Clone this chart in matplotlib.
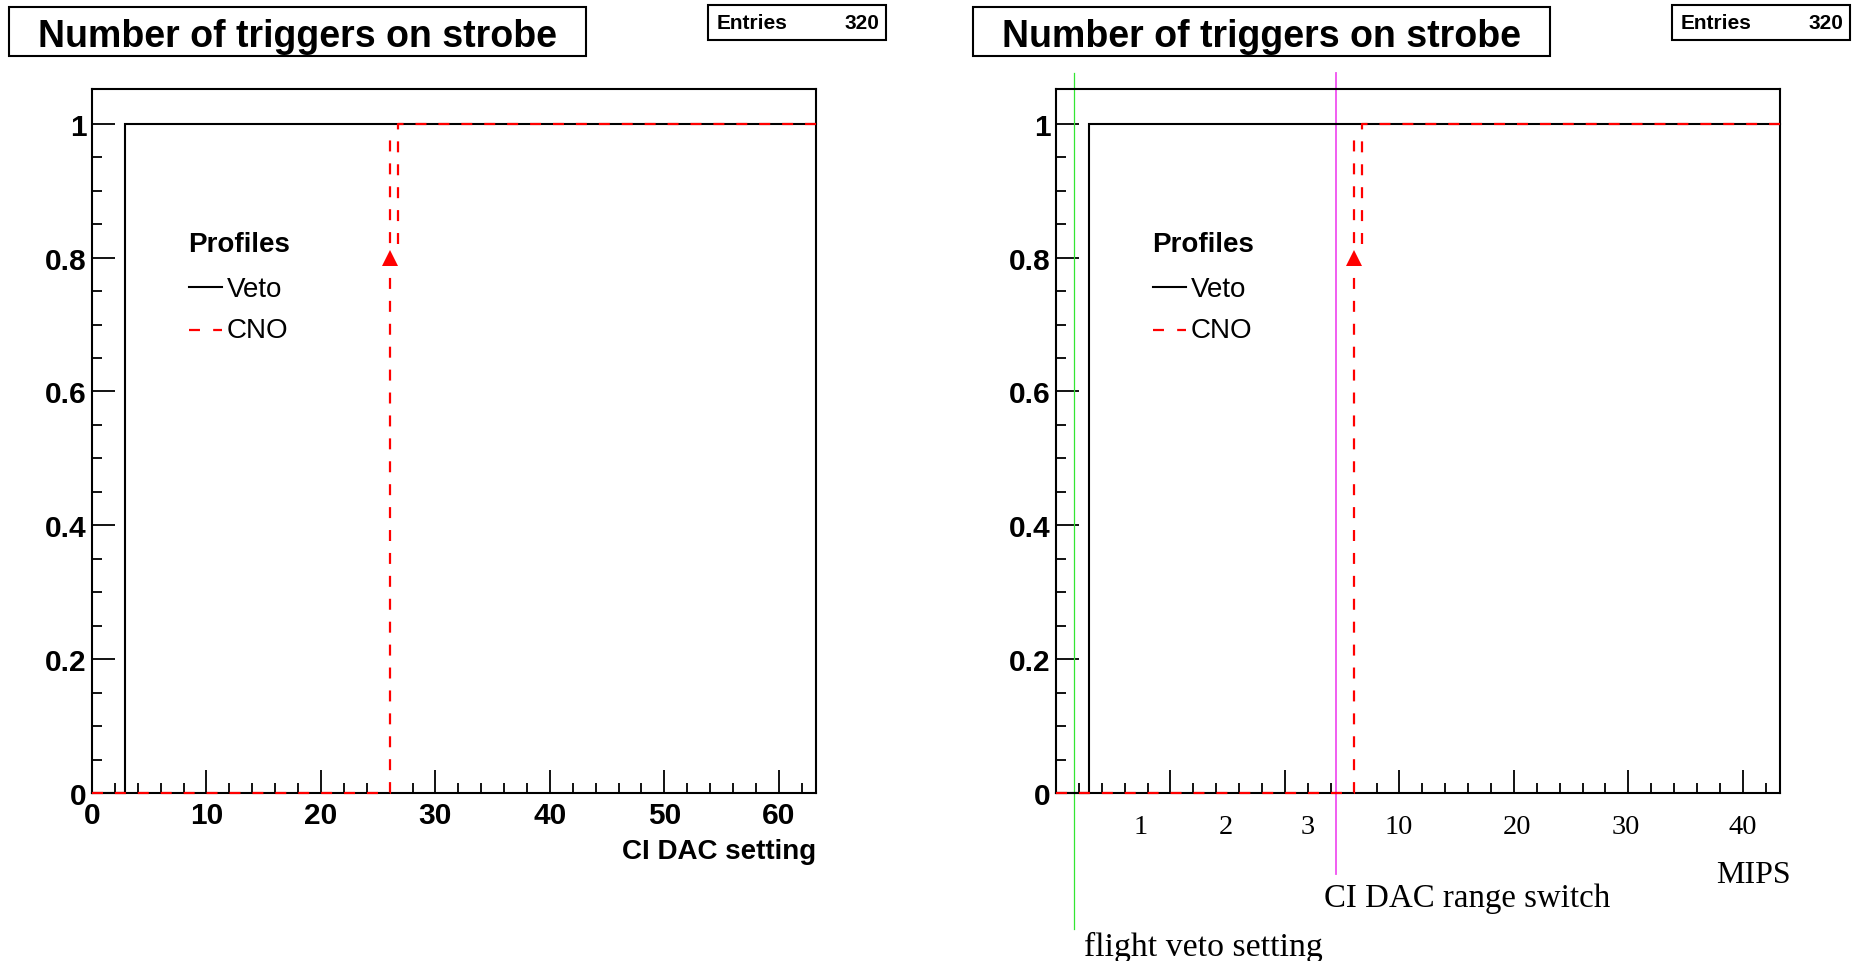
import matplotlib
matplotlib.use("Agg")
import matplotlib.pyplot as plt
from matplotlib.patches import Rectangle
from matplotlib.lines import Line2D
from matplotlib.ticker import MultipleLocator, FixedLocator, FuncFormatter
import matplotlib.transforms as mtransforms

# ---------------- data ----------------
title_text = "Number of triggers on strobe"
entries = 320
x_max = 63.25
veto_x = [0.0, 2.9, 2.9, 63.25]
veto_y = [0.0, 0.0, 1.0, 1.0]
cno_low_x = [0.0, 26.0, 26.0]
cno_low_y = [0.0, 0.0, 0.98]
cno_high_x = [26.7, 26.7, 63.25]
cno_high_y = [0.82, 1.0, 1.0]
cno_point_x = [26.0]
cno_point_y = [0.8]
y_minor_ticks = [i * 0.05 for i in range(21)]
x_label = "CI DAC setting"
legend_title = "Profiles"
legend_names = ["Veto", "CNO"]
mips_labels = ["1", "2", "3", "10", "20", "30", "40"]
mips_pos_dac = [7.4, 14.8, 22.0, 29.9, 40.3, 49.8, 60.0]
flight_veto_dac = 1.57
range_switch_dac = 24.5

# ---------------- layout ----------------
W, H = 1864, 962
plt.rcParams['lines.scale_dashes'] = False
SANS = 'Liberation Sans'
SERIF = 'Liberation Serif'
fig = plt.figure(figsize=(W / 100, H / 100), dpi=100)
fig.patch.set_facecolor('white')


def fx(x):
    return x / W


def fy(y):
    return 1 - y / H


RED_DASH = (0, (7.9, 8.6))


def draw_panel(x0, show_xlabels):
    ax = fig.add_axes([fx(x0), fy(794), 724 / W, 704 / H])
    ax.set_xlim(0, x_max)
    ax.set_ylim(0, 1.052)
    for s in ax.spines.values():
        s.set_linewidth(1.5)
        s.set_color('black')
    ax.xaxis.set_major_locator(MultipleLocator(10))
    ax.xaxis.set_minor_locator(MultipleLocator(2))
    ax.yaxis.set_major_locator(MultipleLocator(0.2))
    ax.yaxis.set_minor_locator(FixedLocator(y_minor_ticks))
    ax.tick_params(which='both', direction='in', top=False, right=False,
                   width=1.3, color='black')
    ax.tick_params(which='major', length=16.5)
    ax.tick_params(which='minor', length=7.5)
    ax.tick_params(axis='y', which='major', pad=4)
    ax.tick_params(axis='x', which='major', pad=6)
    ax.yaxis.set_major_formatter(FuncFormatter(lambda v, p: "%g" % round(v, 3)))
    for lab in ax.get_yticklabels():
        lab.set_fontfamily(SANS)
        lab.set_fontweight('bold')
        lab.set_fontsize(21.5)
    if show_xlabels:
        for lab in ax.get_xticklabels():
            lab.set_fontfamily(SANS)
            lab.set_fontweight('bold')
            lab.set_fontsize(21.5)
    else:
        ax.tick_params(axis='x', labelbottom=False)

    # profiles
    ax.plot(veto_x, veto_y, color='black', lw=1.5, solid_joinstyle='miter',
            clip_on=False, zorder=3)
    ax.plot(cno_low_x, cno_low_y, color='red', lw=1.6, linestyle=RED_DASH,
            clip_on=False, zorder=4)
    ax.plot(cno_high_x, cno_high_y, color='red', lw=1.6, linestyle=RED_DASH,
            clip_on=False, zorder=4)
    ax.plot(cno_point_x, cno_point_y, linestyle='none', marker='^', color='red',
            markersize=12, markeredgewidth=0, zorder=5)

    # legend (figure pixel coordinates relative to axes left)
    off = x0 - 92
    fig.text(fx(188 + off), fy(252), legend_title, fontfamily=SANS, fontweight='bold',
             fontsize=20, ha='left', va='baseline')
    fig.add_artist(Line2D([fx(189 + off), fx(222 + off)], [fy(288), fy(288)],
                          color='black', lw=1.5))
    fig.text(fx(227 + off), fy(297), legend_names[0], fontfamily=SANS,
             fontsize=20, ha='left', va='baseline')
    fig.add_artist(Line2D([fx(189 + off), fx(222 + off)], [fy(331), fy(331)],
                          color='red', lw=1.6, linestyle=(0, (7.9, 9.5))))
    fig.text(fx(227 + off), fy(338), legend_names[1], fontfamily=SANS,
             fontsize=20, ha='left', va='baseline')

    # title box
    tb_x0, tb_x1 = 9 + off, 586 + off
    fig.add_artist(Rectangle((fx(tb_x0), fy(57)), fx(tb_x1 - tb_x0), (57 - 8) / H,
                             transform=fig.transFigure, fill=False, lw=1.5,
                             edgecolor='black'))
    fig.text(fx((tb_x0 + tb_x1) / 2), fy(47), title_text, fontfamily=SANS,
             fontweight='bold', fontsize=27, ha='center', va='baseline')

    # entries box
    eb_x0, eb_x1 = 708 + off, 886 + off
    fig.add_artist(Rectangle((fx(eb_x0), fy(41)), fx(eb_x1 - eb_x0), (41 - 6) / H,
                             transform=fig.transFigure, fill=False, lw=1.5,
                             edgecolor='black'))
    fig.text(fx(eb_x0 + 9), fy(29), "Entries", fontfamily=SANS, fontweight='bold',
             fontsize=15, ha='left', va='baseline')
    fig.text(fx(eb_x1 - 7), fy(29), str(entries), fontfamily=SANS, fontweight='bold',
             fontsize=15, ha='right', va='baseline')
    return ax


ax1 = draw_panel(92, True)
fig.text(fx(816), fy(859), x_label, fontfamily=SANS, fontweight='bold',
         fontsize=20, ha='right', va='baseline')

ax2 = draw_panel(1056, False)

# annotation lines on right panel
trans = mtransforms.blended_transform_factory(ax2.transData, ax2.transAxes)
ax2.add_line(Line2D([flight_veto_dac, flight_veto_dac], [1.0227, -0.193],
                    transform=trans, color='#33e633', lw=0.9, clip_on=False))
ax2.add_line(Line2D([range_switch_dac, range_switch_dac], [1.0227, -0.115],
                    transform=trans, color='#f050f0', lw=1.3, clip_on=False))

# MIPS scale labels
for lab, pos in zip(mips_labels, mips_pos_dac):
    ax2.text(pos, fy(834), lab, transform=mtransforms.blended_transform_factory(
        ax2.transData, fig.transFigure), fontfamily=SERIF, fontsize=20.5,
        ha='center', va='baseline')
fig.text(fx(1716), fy(883), "MIPS", fontfamily=SERIF, fontsize=23,
         ha='left', va='baseline')
fig.text(fx(1324), fy(907), "CI DAC range switch", fontfamily=SERIF, fontsize=23.7,
         ha='left', va='baseline')
fig.text(fx(1084), fy(956), "flight veto setting", fontfamily=SERIF, fontsize=24.3,
         ha='left', va='baseline')

fig.savefig("out.png", dpi=100, facecolor='white')
